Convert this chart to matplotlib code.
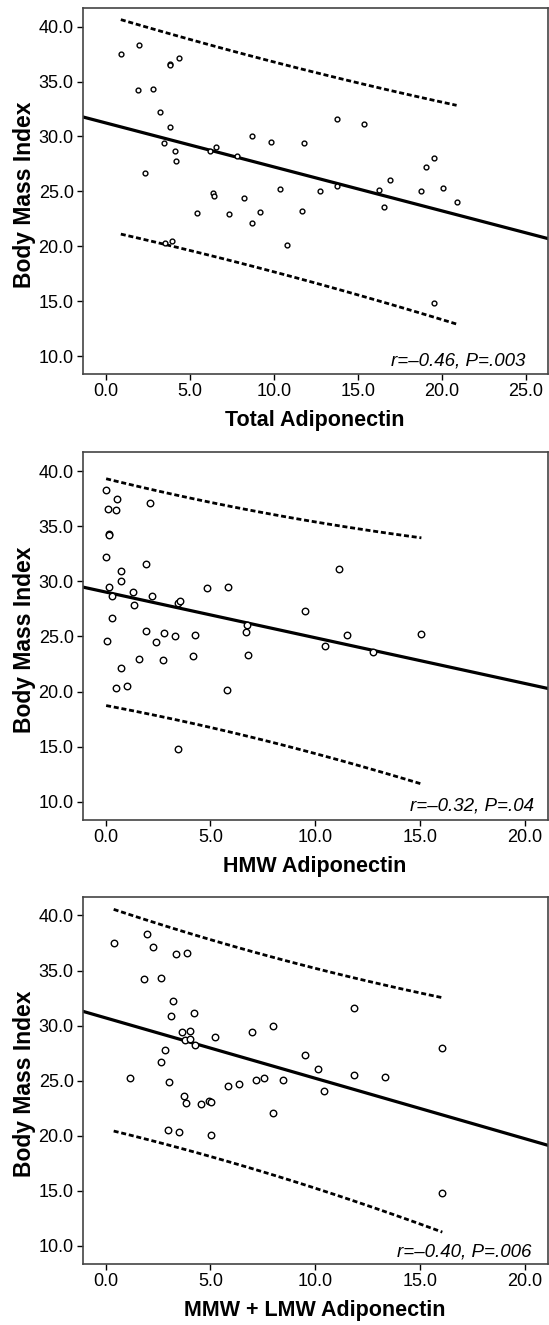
import numpy as np
import matplotlib
matplotlib.use("Agg")
import matplotlib.pyplot as plt

plt.rcParams['font.family'] = ['Liberation Sans', 'DejaVu Sans']

# Total adiponectin vs BMI
total_x = [0.90, 1.98, 1.94, 2.34, 2.80, 3.24, 3.49, 3.80, 3.84, 3.84, 4.11, 4.18, 4.36,
           5.43, 6.22, 6.37, 6.47, 6.56, 7.31, 7.83, 8.23, 8.71, 8.71, 9.21, 9.85,
           10.38, 11.71, 11.80, 12.73, 13.74, 13.74, 15.37, 16.24, 16.56, 16.91,
           18.75, 19.04, 19.54, 20.06, 20.88, 3.51, 3.97, 10.79, 19.54]
total_y = [37.5, 38.3, 34.2, 26.7, 34.3, 32.2, 29.4, 36.6, 36.5, 30.9, 28.7, 27.8, 37.1,
           23.0, 28.7, 24.9, 24.6, 29.0, 22.9, 28.2, 24.4, 30.0, 22.1, 23.1, 29.5,
           25.2, 23.2, 29.4, 25.0, 31.6, 25.5, 31.1, 25.1, 23.6, 26.0,
           25.0, 27.2, 28.0, 25.3, 24.0, 20.3, 20.5, 20.1, 14.8]

# HMW adiponectin vs BMI
hmw_x = [0.02, 0.12, 0.47, 0.53, 0.14, 0.16, 0.02, 0.18, 0.32, 0.30, 0.72, 0.72, 0.07,
         1.30, 1.33, 1.90, 2.10, 2.20, 1.90, 2.38, 2.80, 3.32, 3.47, 3.55, 4.27, 4.18,
         4.82, 5.82, 6.73, 6.72, 6.80, 9.50, 11.13, 11.52, 10.48, 12.77, 15.07,
         1.60, 2.73, 0.72, 0.47, 1.02, 5.77, 3.45]
hmw_y = [38.3, 36.6, 36.5, 37.5, 34.3, 34.2, 32.2, 29.5, 28.7, 26.7, 30.9, 30.0, 24.6,
         29.0, 27.9, 31.6, 37.1, 28.7, 25.5, 24.5, 25.3, 25.0, 28.0, 28.2, 25.1, 23.2,
         29.4, 29.5, 26.0, 25.4, 23.3, 27.3, 31.1, 25.1, 24.1, 23.6, 25.2,
         23.0, 22.9, 22.1, 20.3, 20.5, 20.1, 14.8]

# MMW + LMW adiponectin vs BMI
mlmw_x = [0.38, 1.97, 2.27, 1.83, 2.63, 1.17, 3.20, 3.13, 3.37, 3.90, 4.22, 2.82, 2.63,
          3.03, 3.63, 4.03, 3.80, 4.02, 4.25, 5.23, 3.75, 5.83, 6.37, 6.97, 7.18, 7.57,
          8.00, 8.48, 9.50, 10.13, 10.40, 11.83, 11.83, 13.32, 16.07,
          3.82, 4.55, 4.93, 5.02, 7.98, 2.97, 3.50, 5.02, 16.07]
mlmw_y = [37.5, 38.3, 37.1, 34.2, 34.3, 25.2, 32.2, 30.9, 36.5, 36.6, 31.1, 27.8, 26.7,
          24.9, 29.4, 29.5, 28.7, 28.8, 28.2, 29.0, 23.6, 24.5, 24.7, 29.4, 25.1, 25.2,
          30.0, 25.1, 27.3, 26.1, 24.1, 31.6, 25.5, 25.3, 28.0,
          23.0, 22.9, 23.2, 23.1, 22.1, 20.5, 20.3, 20.1, 14.8]

xlabels = ['Total Adiponectin', 'HMW Adiponectin', 'MMW + LMW Adiponectin']
stats = ['r=\u20130.46, P=.003', 'r=\u20130.32, P=.04', 'r=\u20130.40, P=.006']
datasets = [(total_x, total_y), (hmw_x, hmw_y), (mlmw_x, mlmw_y)]
xlims = [(-1.37, 26.3), (-1.1, 21.1), (-1.1, 21.1)]
xticks = [np.arange(0, 26, 5), np.arange(0, 21, 5), np.arange(0, 21, 5)]
marker_size = [12, 22, 22]
stat_pos = [(0.951, 0.036), (0.970, 0.039), (0.965, 0.033)]
t_crit = 2.02  # 95% two-sided, df ~ 42

fig = plt.figure(figsize=(5.49, 13.25), dpi=100)
boxes = [[0.1506, 0.7175, 0.847, 0.2765],
         [0.1506, 0.3811, 0.847, 0.2775],
         [0.1506, 0.0460, 0.847, 0.2772]]

for i, (xs, ys) in enumerate(datasets):
    ax = fig.add_axes(boxes[i])
    x = np.array(xs)
    y = np.array(ys)

    ax.scatter(x, y, s=marker_size[i], facecolors='white', edgecolors='black',
               linewidths=1.0, zorder=3)

    # linear fit + 95% prediction interval
    b, a = np.polyfit(x, y, 1)
    n = len(x)
    resid = y - (a + b * x)
    s = np.sqrt(np.sum(resid ** 2) / (n - 2))
    sxx = np.sum((x - x.mean()) ** 2)

    xl = np.linspace(xlims[i][0], xlims[i][1], 50)
    ax.plot(xl, a + b * xl, color='black', lw=2.3, zorder=2)

    xb = np.linspace(x.min(), x.max(), 100)
    half = t_crit * s * np.sqrt(1 + 1 / n + (xb - x.mean()) ** 2 / sxx)
    for sign in (1, -1):
        ax.plot(xb, a + b * xb + sign * half, color='black', lw=2.0,
                ls=(0, (1.8, 1.0)), zorder=2)

    ax.set_xlim(xlims[i])
    ax.set_ylim(8.35, 41.7)
    ax.set_xticks(xticks[i])
    ax.set_xticklabels(['%.1f' % v for v in xticks[i]])
    ax.set_yticks(np.arange(10, 41, 5))
    ax.set_yticklabels(['%.1f' % v for v in np.arange(10, 41, 5)])
    ax.tick_params(direction='out', length=4.5, width=1, labelsize=13, colors='black',
                   pad=2)
    for sp in ax.spines.values():
        sp.set_color('#444444')
        sp.set_linewidth(1.2)

    ax.set_xlabel(xlabels[i], fontsize=15.5, fontweight='bold')
    ax.xaxis.set_label_coords(0.5, -0.127)
    ax.xaxis.label.set_va('center')
    ax.set_ylabel('Body Mass Index', fontsize=16.5, fontweight='bold')
    ax.yaxis.set_label_coords(-0.126, 0.49)
    ax.yaxis.label.set_va('center')

    ax.text(stat_pos[i][0], stat_pos[i][1], stats[i], transform=ax.transAxes,
            ha='right', va='center', fontsize=13.5, style='italic')

fig.savefig('out.png', dpi=100)
